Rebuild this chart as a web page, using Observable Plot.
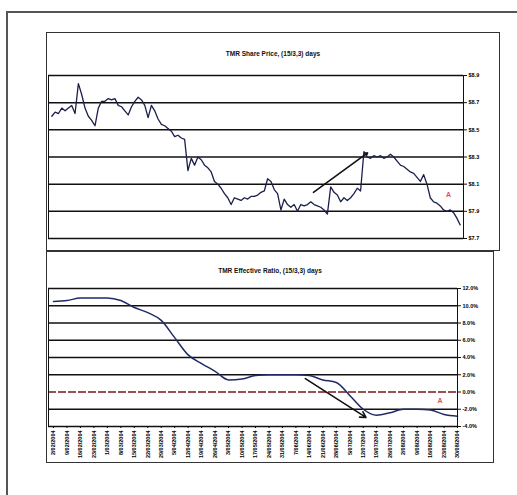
<!DOCTYPE html>
<html><head><meta charset="utf-8">
<script src="https://cdn.jsdelivr.net/npm/d3@7"></script>
<script src="https://cdn.jsdelivr.net/npm/@observablehq/plot@0.6"></script>
<style>
body{margin:0;background:#fff;font-family:"Liberation Sans",Arial,sans-serif;}
#page{position:relative;width:517px;height:495px;overflow:hidden;background:#fff}
#outer{position:absolute;left:6px;top:11px;width:520px;height:490px;border-left:2px solid #555;border-top:2px solid #555;}
.box{position:absolute;border:1px solid #333;background:#fff}
.title{position:absolute;left:0;right:36px;text-align:center;font-weight:bold;font-size:6.5px;color:#111;line-height:8px}
.box svg{position:absolute;left:0;top:0}
</style>
</head><body>
<div id="page">
  <div id="outer"></div>
  <div class="box" id="box1" style="left:46px;top:32px;width:452px;height:217px">
    <div class="title" style="top:17px;right:0">TMR Share Price, (15/3,3) days</div>
  </div>
  <div class="box" id="box2" style="left:46px;top:251px;width:446px;height:210px">
    <div class="title" style="top:15px;right:0">TMR Effective Ratio, (15/3,3) days</div>
  </div>
</div>
<script>
// ---- data ----
const priceValues = [
 8.60,8.63,8.62,8.66,8.64,8.66,8.68,8.62,8.84,8.76,
 8.66,8.60,8.57,8.53,8.66,8.71,8.71,8.73,8.72,8.73,
 8.68,8.67,8.64,8.61,8.67,8.71,8.74,8.72,8.68,8.59,
 8.68,8.64,8.58,8.54,8.53,8.51,8.49,8.45,8.46,8.44,
 8.43,8.20,8.29,8.24,8.30,8.28,8.24,8.22,8.19,8.12,
 8.10,8.07,8.03,8.00,7.95,8.00,7.99,7.98,8.00,7.99,
 8.01,8.01,8.02,8.04,8.05,8.14,8.12,8.06,8.03,7.91,
 7.99,7.95,7.93,7.95,7.90,7.95,7.94,7.95,7.97,7.95,
 7.94,7.93,7.91,7.88,8.08,8.04,8.02,7.97,8.00,7.98,
 8.00,8.03,8.07,8.05,8.34,8.30,8.29,8.31,8.30,8.31,
 8.29,8.30,8.32,8.30,8.27,8.24,8.23,8.21,8.19,8.18,
 8.15,8.12,8.17,8.10,8.00,7.97,7.96,7.94,7.91,7.90,
 7.91,7.89,7.85,7.80
];
const priceTicks = [7.7, 7.9, 8.1, 8.3, 8.5, 8.7, 8.9];
const priceTickLabels = ["$7.7","$7.9","$8.1","$8.3","$8.5","$8.7","$8.9"];

const weekLabels = [
 "2/02/2004","9/02/2004","16/02/2004","23/02/2004","1/03/2004","8/03/2004","15/03/2004","22/03/2004",
 "29/03/2004","5/04/2004","12/04/2004","19/04/2004","26/04/2004","3/05/2004","10/05/2004","17/05/2004",
 "24/05/2004","31/05/2004","7/06/2004","14/06/2004","21/06/2004","28/06/2004","5/07/2004","12/07/2004",
 "19/07/2004","26/07/2004","2/08/2004","9/08/2004","16/08/2004","23/08/2004","30/08/2004"
];
const ratioValues = [
 10.5,10.6,10.9,10.9,10.9,10.6,9.8,9.2,8.3,6.3,
 4.3,3.3,2.4,1.4,1.5,1.9,2.0,2.0,2.0,1.9,
 1.4,1.1,-0.4,-2.0,-2.7,-2.4,-2.0,-2.0,-2.1,-2.6,-2.8
];
const ratioTicks = [-4,-2,0,2,4,6,8,10,12];
const ratioTickLabels = ["-4.0%","-2.0%","0.0%","2.0%","4.0%","6.0%","8.0%","10.0%","12.0%"];

// annotations
const priceArrow = [{x1: 78.8, y1: 8.04, x2: 95.1, y2: 8.33}];
const priceNote = [{x: 119.5, y: 8.02, t: "A"}];
const ratioArrow = [{x1: 18.7, y1: 1.55, x2: 23.2, y2: -2.95}];
const ratioNote = [{x: 28.7, y: -1.05, t: "A"}];

const priceData = priceValues.map((v, i) => ({i, v}));
const ratioData = ratioValues.map((v, i) => ({i, v}));
const font = "Liberation Sans, Arial, sans-serif";

// ---- upper chart ----
const p1 = Plot.plot({
  width: 452, height: 217,
  marginLeft: 1, marginRight: 36, marginTop: 42, marginBottom: 12,
  style: {fontFamily: font, background: "transparent"},
  x: {domain: [-1, 124], axis: null},
  y: {domain: [7.7, 8.9]},
  marks: [
    Plot.ruleY(priceTicks, {stroke: "#111", strokeWidth: 1.5}),
    Plot.axisY(priceTicks, {anchor: "right", tickSize: 3, tickPadding: 2, fontSize: 5.5, fontWeight: "bold",
      tickFormat: (d) => priceTickLabels[priceTicks.indexOf(d)], stroke: "#111"}),
    Plot.line(priceData, {x: "i", y: "v", stroke: "#1b1f4a", strokeWidth: 1.3}),
    Plot.arrow(priceArrow, {x1: "x1", y1: "y1", x2: "x2", y2: "y2", stroke: "#111", strokeWidth: 1.6, headLength: 2, bend: 0}),
    Plot.text(priceNote, {x: "x", y: "y", text: "t", fill: "#d9534f", fontSize: 7, fontWeight: "bold"}),
    Plot.frame({stroke: "#111", strokeWidth: 1})
  ]
});
document.getElementById("box1").appendChild(p1);

// ---- lower chart ----
const p2 = Plot.plot({
  width: 446, height: 210,
  marginLeft: 1, marginRight: 36, marginTop: 36, marginBottom: 36,
  style: {fontFamily: font, background: "transparent"},
  x: {domain: [-0.37, 30]},
  y: {domain: [-4, 12]},
  marks: [
    Plot.ruleY(ratioTicks.filter(d => d !== 0), {stroke: "#111", strokeWidth: 1.5}),
    Plot.ruleY([0], {stroke: "#7a1818", strokeWidth: 1.4, strokeDasharray: "8,2"}),
    Plot.axisY(ratioTicks, {anchor: "right", tickSize: 3, tickPadding: 2, fontSize: 5.5, fontWeight: "bold",
      tickFormat: (d) => ratioTickLabels[ratioTicks.indexOf(d)], stroke: "#111"}),
    Plot.axisX(d3.range(weekLabels.length), {anchor: "bottom", tickSize: 2, tickPadding: 2, tickRotate: -90,
      fontSize: 5.5, fontWeight: "bold", tickFormat: (d) => weekLabels[d]}),
    Plot.line(ratioData, {x: "i", y: "v", stroke: "#1f2a66", strokeWidth: 1.5, curve: "monotone-x"}),
    Plot.arrow(ratioArrow, {x1: "x1", y1: "y1", x2: "x2", y2: "y2", stroke: "#111", strokeWidth: 1.6, headLength: 6, bend: 0}),
    Plot.text(ratioNote, {x: "x", y: "y", text: "t", fill: "#d9534f", fontSize: 7, fontWeight: "bold"}),
    Plot.frame({stroke: "#111", strokeWidth: 1})
  ]
});
document.getElementById("box2").appendChild(p2);
</script>
</body></html>
